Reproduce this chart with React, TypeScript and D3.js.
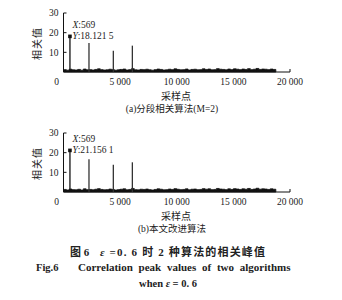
import React from "react";
import * as d3 from "d3";

const xTicks = [0, 5000, 10000, 15000, 20000];
const xTickLabels = ["0", "5 000", "10 000", "15 000", "20 000"];
const yTicks = [10, 20, 30];

const peakSamples = [569, 2250, 4400, 6080];
const peaksA = [18.1215, 14.8, 10.8, 13.4];
const peaksB = [21.1561, 16.6, 13.9, 15.1];

const noiseStep = 250;
const noiseA = [
  1.2, 0.9, 1.4, 1.1, 1.0, 1.3, 0.9, 1.5, 1.1, 1.2, 1.0, 1.3, 1.6, 1.2, 1.0, 1.1,
  1.4, 1.2, 0.9, 1.1, 1.3, 1.5, 1.0, 1.2, 1.7, 1.1, 1.0, 1.3, 1.2, 1.4, 1.1, 0.9,
  1.2, 1.5, 1.3, 1.0, 1.1, 1.4, 1.2, 1.6, 1.3, 1.1, 1.2, 1.5, 1.0, 1.3, 1.4, 1.1,
  1.2, 1.6, 1.3, 1.5, 1.1, 1.2, 1.7, 1.4, 1.3, 1.1, 1.5, 1.2, 1.6, 1.4, 1.2, 1.5,
  1.3, 1.7, 1.2, 1.4, 1.8, 1.3, 1.5, 1.4, 1.2, 1.5, 1.3,
];
const noiseB = [
  1.3, 1.0, 1.5, 1.2, 1.1, 1.4, 1.0, 1.6, 1.2, 1.3, 1.1, 1.4, 1.7, 1.3, 1.1, 1.2,
  1.5, 1.3, 1.0, 1.2, 1.4, 1.6, 1.1, 1.3, 1.8, 1.2, 1.1, 1.4, 1.3, 1.5, 1.2, 1.0,
  1.3, 1.6, 1.4, 1.1, 1.2, 1.5, 1.3, 1.7, 1.4, 1.2, 1.3, 1.6, 1.1, 1.4, 1.5, 1.2,
  1.3, 1.7, 1.4, 1.6, 1.2, 1.3, 1.8, 1.5, 1.4, 1.2, 1.6, 1.3, 1.7, 1.5, 1.3, 1.6,
  1.4, 1.8, 1.3, 1.5, 1.9, 1.4, 1.6, 1.5, 1.3, 1.6, 1.4,
];

const markerX = "X:569";
const markerYA = "Y:18.121 5";
const markerYB = "Y:21.156 1";

const SERIF = "'Liberation Serif', 'Times New Roman', serif";
const CJK = "'Liberation Serif', 'Noto Sans CJK SC', serif";

type PanelProps = {
  top: number;
  peaks: number[];
  noise: number[];
  caption: string;
  markY: string;
};

const X0 = 63.5;
const X1 = 290;

function Panel({ top, peaks, noise, caption, markY }: PanelProps) {
  const x = d3.scaleLinear().domain([0, 20000]).range([X0, X1]);
  const y = d3.scaleLinear().domain([0, 30]).range([top + 59, top]);
  const base = y(0);
  const noisePts: [number, number][] = noise.map((v, i) => [i * noiseStep, v]);
  noisePts.push([18750, noise[noise.length - 1]]);
  const area = d3
    .area<[number, number]>()
    .x((d) => x(d[0]))
    .y0(base)
    .y1((d) => y(d[1]))
    .curve(d3.curveStepAfter);
  return (
    <g>
      {/* y axis */}
      <line x1={X0} x2={X0} y1={y(30)} y2={base} stroke="#111" strokeWidth={1} />
      {yTicks.map((t) => (
        <g key={t}>
          <line x1={X0} x2={X0 + 3} y1={y(t)} y2={y(t)} stroke="#111" strokeWidth={1} />
          <text x={X0 - 5} y={y(t)} dy="0.35em" textAnchor="end" fontSize={9.5} fontFamily={SERIF} fill="#222">
            {t}
          </text>
        </g>
      ))}
      {/* x axis */}
      <line x1={X0} x2={X1} y1={base} y2={base} stroke="#111" strokeWidth={1} />
      {xTicks.map((t, i) => (
        <g key={t}>
          <line x1={x(t)} x2={x(t)} y1={base} y2={base - 3} stroke="#111" strokeWidth={1} />
          <text
            x={i === 0 ? x(t) - 7 : x(t)}
            y={base + 13}
            textAnchor="middle"
            fontSize={9.5}
            fontFamily={SERIF}
            fill="#222"
          >
            {xTickLabels[i]}
          </text>
        </g>
      ))}
      {/* noise floor */}
      <path d={area(noisePts) || ""} fill="#111" stroke="#111" strokeWidth={0.8} />
      {/* peaks */}
      {peakSamples.map((s, i) => (
        <line
          key={s}
          x1={x(s)}
          x2={x(s)}
          y1={base}
          y2={y(peaks[i])}
          stroke={i === 0 ? "#111" : "#333"}
          strokeWidth={1.3}
        />
      ))}
      {/* data tip */}
      <rect x={x(peakSamples[0]) - 1.8} y={y(peaks[0]) - 1.8} width={3.6} height={3.6} fill="#111" />
      <text x={x(peakSamples[0]) + 2.5} y={y(peaks[0]) - 8} fontSize={9.5} fontFamily={SERIF} fill="#222">
        <tspan fontStyle="italic">X</tspan>
        {markerX.slice(1)}
      </text>
      <text x={x(peakSamples[0]) + 2.5} y={y(peaks[0]) + 3} fontSize={9.5} fontFamily={SERIF} fill="#222">
        <tspan fontStyle="italic">Y</tspan>
        {markY.slice(1)}
      </text>
      {/* y label */}
      <text
        transform={`translate(41, ${(y(30) + base) / 2 + 1}) rotate(-90)`}
        textAnchor="middle"
        fontSize={10}
        fontFamily={CJK}
        fill="#222"
        letterSpacing={1}
      >
        相关值
      </text>
      {/* x label */}
      <text x={176} y={base + 28} textAnchor="middle" fontSize={10} fontFamily={CJK} fill="#222">
        采样点
      </text>
      <text x={172} y={base + 40} textAnchor="middle" fontSize={9.5} fontFamily={CJK} fill="#222">
        {caption}
      </text>
    </g>
  );
}

export default function App() {
  return (
    <svg
      width={342}
      height={300}
      style={{ position: "absolute", left: 0, top: 0, background: "#fff" }}
    >
      <rect width={342} height={300} fill="#fff" />
      <Panel top={13} peaks={peaksA} noise={noiseA} caption="(a)分段相关算法(M=2)" markY={markerYA} />
      <Panel top={133} peaks={peaksB} noise={noiseB} caption="(b)本文改进算法" markY={markerYB} />
      <text x={70} y={256} fontSize={11} fontWeight="bold" fontFamily={CJK} fill="#222">
        图 6
      </text>
      <text x={100} y={256} fontSize={11} fontWeight="bold" fontFamily={CJK} fill="#222" textLength={165}>
        <tspan fontStyle="italic">ε</tspan> =0. 6 时 2 种算法的相关峰值
      </text>
      <text x={36} y={271} fontSize={10.5} fontWeight="bold" fontFamily={SERIF} fill="#222">
        Fig.6
      </text>
      <text x={78} y={271} fontSize={11} fontWeight="bold" fontFamily={SERIF} fill="#222" wordSpacing={3}>
        Correlation peak values of two algorithms
      </text>
      <text x={168} y={287} textAnchor="middle" fontSize={10.5} fontWeight="bold" fontFamily={SERIF} fill="#222">
        when <tspan fontStyle="italic">ε</tspan> = 0. 6
      </text>
    </svg>
  );
}
